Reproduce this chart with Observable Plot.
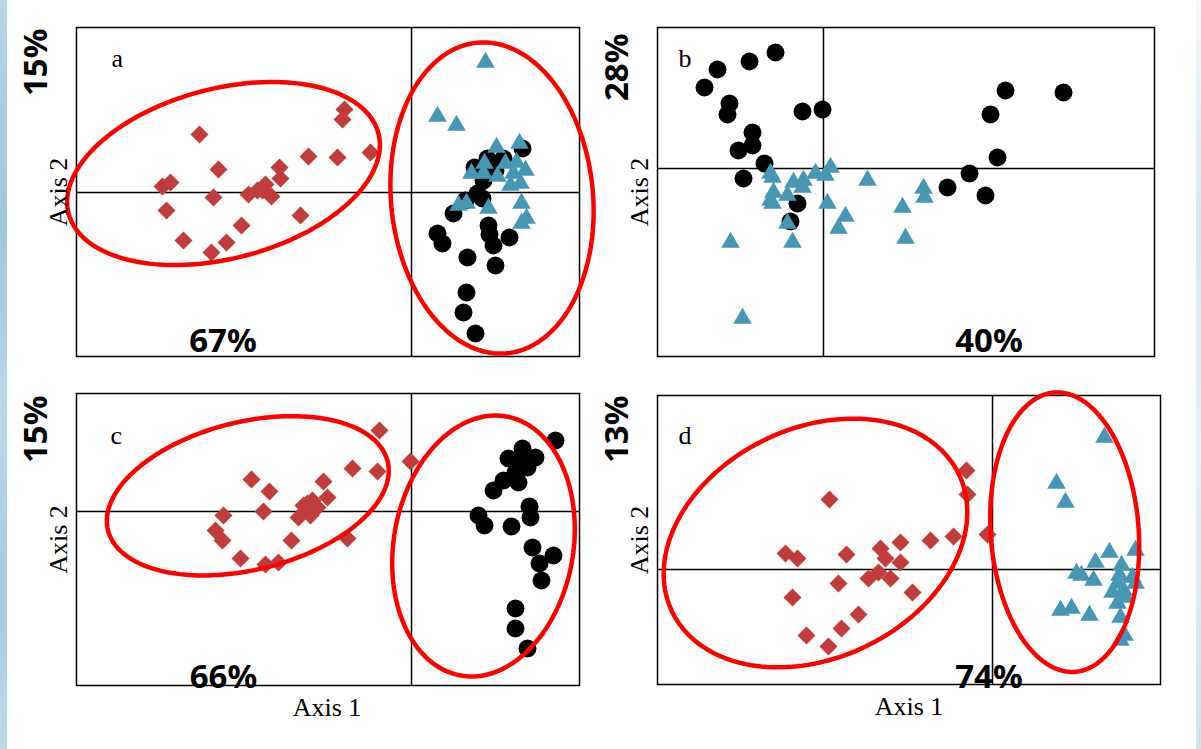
<!DOCTYPE html>
<html>
<head>
<meta charset="utf-8">
<script src="https://cdn.jsdelivr.net/npm/d3@7"></script>
<script src="https://cdn.jsdelivr.net/npm/@observablehq/plot@0.6"></script>
<style>
  html, body { margin: 0; padding: 0; background: #fff; }
  #page { position: relative; width: 1201px; height: 749px; overflow: hidden; background: #fff; }
  .strip { position: absolute; top: 0; height: 749px; }
  .panel { position: absolute; }
  .panel svg { overflow: visible; }
</style>
</head>
<body>
<div id="page">
  <div class="strip" style="left:0;width:7px;background:linear-gradient(180deg,#b5d7e6 0%,#9cc8dc 30%,#b9d9e8 55%,#a4cde0 80%,#bcdbe9 100%);"></div>
  <div class="strip" style="left:1196px;width:5px;background:linear-gradient(180deg,#f4f8fb 0%,#d6e8f1 30%,#e7f1f7 60%,#cfe3ee 100%);"></div>
</div>
<script>
// Ordination scores (Axis 1, Axis 2) for the four analyses a–d.
// Groups: black circles, blue triangles, red diamonds.

// ---- panel a ----
const aDiamonds = [
  [-0.67, 0.83], [-0.69, 0.73], [-2.12, 0.58], [-1.93, 0.23], [-1.03, 0.36], [-0.74, 0.35],
  [-0.41, 0.40], [-1.32, 0.25], [-1.31, 0.14], [-2.41, 0.10], [-2.49, 0.06], [-1.98, -0.05],
  [-1.63, -0.02], [-1.54, 0.02], [-1.46, 0.08], [-1.40, -0.04], [-1.49, 0.02], [-2.45, -0.18],
  [-1.11, -0.23], [-1.70, -0.33], [-2.28, -0.48], [-1.85, -0.50], [-2.00, -0.60]
];
const aTriangles = [
  [0.74, 1.30], [0.26, 0.76], [0.45, 0.67], [0.85, 0.45], [1.08, 0.49], [0.73, 0.29],
  [1.05, 0.30], [0.60, 0.19], [0.72, 0.19], [0.86, 0.16], [0.94, 0.29], [1.14, 0.22],
  [0.99, 0.07], [1.09, 0.09], [1.02, 0.19], [0.47, -0.13], [0.55, -0.11], [0.77, -0.16],
  [1.10, -0.11], [1.15, -0.26], [1.10, -0.31]
];
const aCircles = [
  [1.11, 0.44], [0.76, 0.34], [0.92, 0.34], [0.63, 0.25], [0.72, 0.12], [0.84, 0.22],
  [0.66, -0.01], [0.71, -0.06], [0.54, -0.08], [0.42, -0.21], [0.26, -0.41], [0.31, -0.51],
  [0.77, -0.33], [0.78, -0.42], [0.82, -0.53], [0.98, -0.45], [0.56, -0.65], [0.84, -0.73],
  [0.55, -1.00], [0.52, -1.20], [0.64, -1.41]
];
// group ellipses: centre x, centre y, semi-axis 1, semi-axis 2, rotation (degrees)
const aEllipses = [
  [-1.88, 0.19, 1.60, 0.85, 14.5],
  [0.805, -0.055, 1.56, 1.01, 95.4]
];

// ---- panel b ----
const bCircles = [
  [-0.48, 1.16], [-0.74, 1.07], [-1.06, 0.99], [-1.19, 0.81], [-0.94, 0.65], [-0.96, 0.54],
  [-0.21, 0.57], [-0.01, 0.59], [-0.71, 0.36], [-0.71, 0.23], [-0.85, 0.18], [-0.59, 0.05],
  [-0.80, -0.10], [-0.26, -0.35], [-0.33, -0.53], [1.82, 0.78], [2.40, 0.76], [1.67, 0.54],
  [1.74, 0.11], [1.46, -0.05], [1.24, -0.19], [1.62, -0.27]
];
const bTriangles = [
  [-0.53, -0.05], [-0.51, -0.09], [-0.30, -0.14], [-0.20, -0.12], [-0.08, -0.05], [0.07, 0.01],
  [0.02, -0.07], [-0.50, -0.24], [-0.36, -0.27], [-0.21, -0.19], [-0.51, -0.35], [-0.53, -0.32],
  [0.04, -0.35], [0.22, -0.48], [0.15, -0.60], [-0.36, -0.55], [-0.31, -0.74], [-0.93, -0.74],
  [-0.81, -1.50], [0.44, -0.12], [1.00, -0.20], [1.01, -0.29], [0.79, -0.39], [0.82, -0.70]
];

// ---- panel c ----
const cDiamonds = [
  [-0.32, 0.81], [-0.01, 0.50], [-0.59, 0.43], [-0.34, 0.40], [-1.60, 0.32], [-1.42, 0.20],
  [-0.88, 0.30], [-0.84, 0.14], [-0.99, 0.11], [-1.08, 0.06], [-0.94, 0.04], [-1.01, -0.04],
  [-1.13, -0.06], [-1.04, 0.08], [-1.48, 0.00], [-1.88, -0.04], [-1.96, -0.19], [-1.89, -0.29],
  [-1.20, -0.29], [-0.64, -0.27], [-1.71, -0.47], [-1.46, -0.53], [-1.33, -0.51]
];
const cCircles = [
  [1.44, 0.71], [1.11, 0.63], [1.24, 0.54], [0.97, 0.53], [1.09, 0.49], [1.16, 0.44],
  [1.04, 0.39], [0.92, 0.31], [1.07, 0.29], [0.82, 0.21], [1.18, 0.05], [1.19, -0.06],
  [0.67, -0.04], [0.73, -0.14], [1.00, -0.15], [1.21, -0.36], [1.42, -0.44], [1.28, -0.52],
  [1.30, -0.69], [1.04, -0.97], [1.04, -1.17], [1.16, -1.37]
];
const cEllipses = [
  [-1.637, 0.157, 1.44, 0.74, 13.8],
  [0.72, -0.345, 1.315, 0.898, 80.1]
];

// ---- panel d ----
const dDiamonds = [
  [-0.26, 0.99], [-0.25, 0.75], [-1.63, 0.70], [-0.05, 0.35], [-0.39, 0.33], [-0.62, 0.29],
  [-0.92, 0.27], [-1.12, 0.21], [-1.07, 0.11], [-0.92, 0.07], [-2.07, 0.16], [-1.95, 0.11],
  [-1.46, 0.15], [-1.14, -0.03], [-1.24, -0.09], [-1.02, -0.09], [-1.54, -0.14], [-0.80, -0.23],
  [-2.00, -0.28], [-1.34, -0.45], [-1.51, -0.59], [-1.86, -0.66], [-1.64, -0.77]
];
const dTriangles = [
  [1.12, 1.32], [0.64, 0.86], [0.73, 0.67], [1.17, 0.17], [1.43, 0.19], [1.03, 0.07],
  [0.84, -0.04], [0.89, -0.06], [1.01, -0.11], [1.29, 0.04], [1.27, -0.06], [1.40, -0.08],
  [1.43, -0.14], [1.25, -0.14], [1.20, -0.23], [1.31, -0.21], [1.33, -0.28], [1.25, -0.34],
  [0.68, -0.41], [0.79, -0.39], [0.97, -0.46], [1.28, -0.48], [1.32, -0.66], [1.28, -0.71]
];
const dEllipses = [
  [-1.77, 0.265, 1.59, 1.15, 25.5],
  [0.722, 0.373, 1.40, 0.74, 94.2]
];

// explained variance shown on each axis
const panelLetters = ["a", "b", "c", "d"];
const axis1Pct = ["67%", "40%", "66%", "74%"];
const axis2Pct = ["15%", "28%", "15%", "13%"];

const RED = "#c33c3c", BLUE = "#4597b5", RING = "#ff0000";
const SERIF = "'Liberation Serif', 'Times New Roman', serif";
const SANS = "'Noto Sans', 'Open Sans', sans-serif";

// outline of a rotated ellipse, in data units
function ellipseOutline(list) {
  const pts = [];
  list.forEach(([cx, cy, a, b, deg], id) => {
    const th = deg * Math.PI / 180;
    for (let i = 0; i <= 180; i++) {
      const t = i / 180 * 2 * Math.PI;
      pts.push({
        id,
        x: cx + a * Math.cos(t) * Math.cos(th) - b * Math.sin(t) * Math.sin(th),
        y: cy + a * Math.cos(t) * Math.sin(th) + b * Math.sin(t) * Math.cos(th)
      });
    }
  });
  return pts;
}

const px = d => d[0], py = d => d[1];

function panel(cfg) {
  const marks = [
    Plot.frame({stroke: "black", strokeWidth: 1.5}),
    Plot.ruleX([0], {stroke: "black", strokeWidth: 1.5}),
    Plot.ruleY([0], {stroke: "black", strokeWidth: 1.5})
  ];
  if (cfg.circles) marks.push(Plot.dot(cfg.circles, {x: px, y: py, r: 9, fill: "black", symbol: "circle"}));
  if (cfg.triangles) marks.push(Plot.dot(cfg.triangles, {x: px, y: py, r: 6.9, fill: BLUE, symbol: "triangle"}));
  if (cfg.diamonds) marks.push(Plot.dot(cfg.diamonds, {x: px, y: py, r: 8.1, fill: RED, symbol: "diamond2"}));
  if (cfg.ellipses) marks.push(Plot.line(ellipseOutline(cfg.ellipses), {x: "x", y: "y", z: "id", stroke: RING, strokeWidth: 4.5}));

  const idx = cfg.index;
  marks.push(
    Plot.text([panelLetters[idx]], {text: d => d, frameAnchor: "top-left", textAnchor: "start", lineAnchor: "bottom",
      dx: cfg.letterDx, dy: cfg.letterDy, fontFamily: SERIF, fontSize: 26, fill: "black"}),
    Plot.text(["Axis 2"], {text: d => d, frameAnchor: "left", rotate: -90, textAnchor: "middle", lineAnchor: "middle",
      dx: -18, fontFamily: SERIF, fontSize: 26, fill: "black"}),
    Plot.text([axis2Pct[idx]], {text: d => d, frameAnchor: "top-left", rotate: -90, textAnchor: "end", lineAnchor: "middle",
      dx: -40, dy: cfg.pctYDy, fontFamily: SANS, fontWeight: "bold", fontSize: 33, fill: "black"}),
    Plot.text([axis1Pct[idx]], {text: d => d, frameAnchor: "bottom", textAnchor: "middle", lineAnchor: "bottom",
      dx: cfg.pctXDx, dy: cfg.pctXDy, fontFamily: SANS, fontWeight: "bold", fontSize: 33, fill: "black"})
  );
  if (cfg.axis1) marks.push(
    Plot.text(["Axis 1"], {text: d => d, frameAnchor: "bottom", textAnchor: "middle", lineAnchor: "bottom",
      dx: cfg.axis1Dx, dy: 30, fontFamily: SERIF, fontSize: 26, fill: "black"})
  );

  const chart = Plot.plot({
    width: cfg.width, height: cfg.height,
    marginLeft: cfg.m[0], marginRight: cfg.m[1], marginTop: cfg.m[2], marginBottom: cfg.m[3],
    x: {domain: cfg.xDomain, axis: null},
    y: {domain: cfg.yDomain, axis: null},
    style: {background: "none", overflow: "visible"},
    marks
  });
  const div = document.createElement("div");
  div.className = "panel";
  div.style.left = cfg.left + "px";
  div.style.top = cfg.top + "px";
  div.style.width = cfg.width + "px";
  div.style.height = cfg.height + "px";
  div.appendChild(chart);
  document.getElementById("page").appendChild(div);
}

panel({index: 0, left: 0, top: 0, width: 600, height: 372, m: [76, 21, 27, 16],
  xDomain: [-3.35, 1.68], yDomain: [-1.64, 1.65],
  circles: aCircles, triangles: aTriangles, diamonds: aDiamonds, ellipses: aEllipses,
  letterDx: 35, letterDy: 39, pctYDy: 1, pctXDx: -105, pctXDy: -5});

panel({index: 1, left: 600, top: 0, width: 601, height: 372, m: [57, 47, 27, 16],
  xDomain: [-1.66, 3.31], yDomain: [-1.88, 1.41],
  circles: bCircles, triangles: bTriangles,
  letterDx: 21, letterDy: 39, pctYDy: 6, pctXDx: 83, pctXDy: -5});

panel({index: 2, left: 0, top: 372, width: 600, height: 377, m: [76, 21, 21, 64],
  xDomain: [-3.35, 1.68], yDomain: [-1.74, 1.18],
  circles: cCircles, diamonds: cDiamonds, ellipses: cEllipses,
  letterDx: 34, letterDy: 50, pctYDy: 2, pctXDx: -104.5, pctXDy: 2, axis1: true, axis1Dx: -1});

panel({index: 3, left: 600, top: 372, width: 601, height: 377, m: [57, 41, 23, 65],
  xDomain: [-3.35, 1.68], yDomain: [-1.15, 1.74],
  triangles: dTriangles, diamonds: dDiamonds, ellipses: dEllipses,
  letterDx: 21, letterDy: 48, pctYDy: 0, pctXDx: 80, pctXDy: 3, axis1: true, axis1Dx: 0});
</script>
</body>
</html>
